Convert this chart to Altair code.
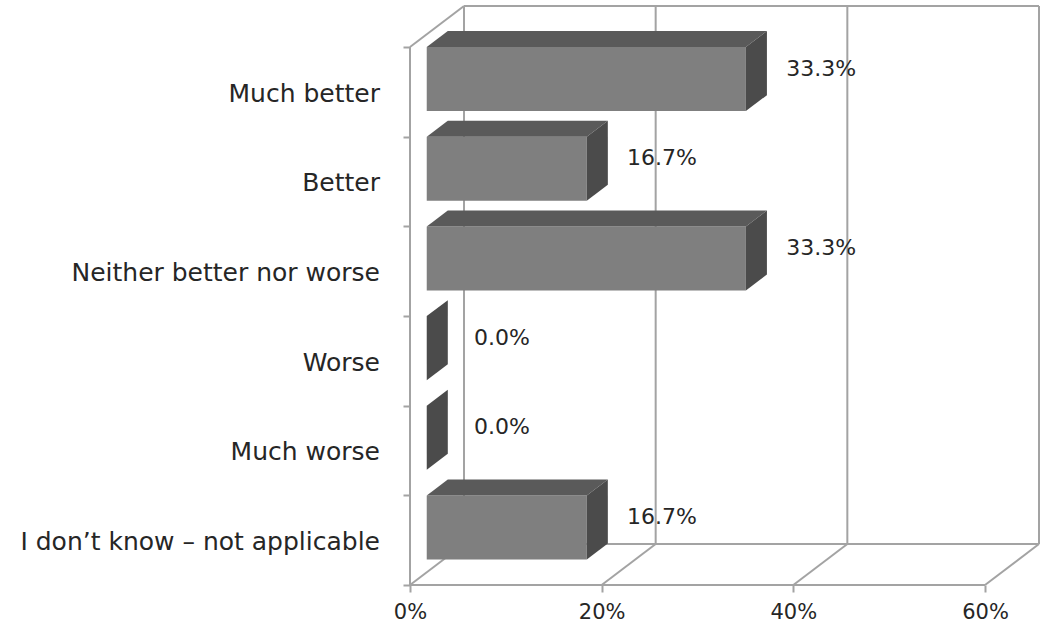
import altair as alt
import pandas as pd

# Survey answers and their shares (percent)
categories = [
    "Much better",
    "Better",
    "Neither better nor worse",
    "Worse",
    "Much worse",
    "I don’t know – not applicable",
]
shares = [33.3, 16.7, 33.3, 0.0, 0.0, 16.7]
x_ticks = [0, 20, 40, 60]

# Pseudo-3D geometry, in data units: depth of the box along x (%) and y (rows)
DEPTH_X = 5.635
DEPTH_Y = 0.457
BAR_FRONT = 0.31   # depth fraction of a bar's front face
BAR_BACK = 0.70    # depth fraction of a bar's back face
BAR_HALF = 0.357   # half bar thickness, in rows

N = len(categories)
X_MAX = max(x_ticks)

rows = []
top_rows = []
side_rows = []
for i, (cat, v) in enumerate(zip(categories, shares)):
    c = N - i - 0.5
    fx, fy = BAR_FRONT * DEPTH_X, BAR_FRONT * DEPTH_Y
    bx, by = BAR_BACK * DEPTH_X, BAR_BACK * DEPTH_Y
    rows.append(dict(cat=cat, share=v, center=c, zero=0.0,
                     x=fx, x2=v + fx, y=c - BAR_HALF + fy, y2=c + BAR_HALF + fy))
    top_rows += [
        dict(bar=i, y=c + BAR_HALF + fy, x=fx, x2=v + fx),
        dict(bar=i, y=c + BAR_HALF + by, x=bx, x2=v + bx),
    ]
    side_rows += [
        dict(bar=i, x=v + fx, y=c - BAR_HALF + fy, y2=c + BAR_HALF + fy),
        dict(bar=i, x=v + bx, y=c - BAR_HALF + by, y2=c + BAR_HALF + by),
    ]
bars = pd.DataFrame(rows)
tops = pd.DataFrame(top_rows)
sides = pd.DataFrame(side_rows)

# Box outline: back wall, floor and left wall edges
segs = []
for t in x_ticks:
    segs.append(dict(x=t + DEPTH_X, y=DEPTH_Y, x2=t + DEPTH_X, y2=N + DEPTH_Y))  # back wall grid
    segs.append(dict(x=t, y=0, x2=t + DEPTH_X, y2=DEPTH_Y))                      # floor diagonals
segs += [
    dict(x=DEPTH_X, y=N + DEPTH_Y, x2=X_MAX + DEPTH_X, y2=N + DEPTH_Y),
    dict(x=DEPTH_X, y=DEPTH_Y, x2=X_MAX + DEPTH_X, y2=DEPTH_Y),
    dict(x=0, y=0, x2=X_MAX, y2=0),
    dict(x=0, y=0, x2=0, y2=N),
    dict(x=0, y=N, x2=DEPTH_X, y2=N + DEPTH_Y),
]
edges = pd.DataFrame(segs)

FONT = "DejaVu Sans"
TEXT = "#262626"
GRID = "#a3a3a3"

xs = alt.Scale(domain=[0, X_MAX + DEPTH_X], nice=False, zero=False)
ys = alt.Scale(domain=[0, N + DEPTH_Y], nice=False, zero=False)

x_axis = alt.Axis(
    values=x_ticks, labelExpr="datum.value + '%'", title=None,
    domain=False, grid=False, tickSize=7, tickColor=GRID, tickWidth=2,
    labelAlign="center", labelFlush=False, labelBound=False,
    labelFont=FONT, labelFontSize=21, labelColor=TEXT, labelPadding=9)
y_axis = alt.Axis(
    values=list(range(N + 1)), labels=False, title=None,
    domain=False, grid=False, tickSize=7, tickColor=GRID, tickWidth=2)


def X(field):
    return alt.X(field, scale=xs, axis=x_axis)


def Y(field):
    return alt.Y(field, scale=ys, axis=y_axis)


frame = alt.Chart(edges).mark_rule(color=GRID, strokeWidth=2).encode(
    x=X("x:Q"), y=Y("y:Q"), x2="x2:Q", y2="y2:Q",
)

front = alt.Chart(bars).mark_rect(color="#7f7f7f").encode(
    x=X("x:Q"), x2="x2:Q", y=Y("y:Q"), y2="y2:Q",
)

top = alt.Chart(tops).mark_area(orient="horizontal", color="#5a5a5a").encode(
    y=Y("y:Q"), x=X("x:Q"), x2="x2:Q", detail="bar:N",
)

side = alt.Chart(sides).mark_area(orient="vertical", color="#4b4b4b").encode(
    x=X("x:Q"), y=Y("y:Q"), y2="y2:Q", detail="bar:N",
)

cat_labels = alt.Chart(bars).mark_text(
    align="right", baseline="middle", font=FONT, fontSize=25, color=TEXT,
    xOffset=-30, yOffset=2,
).encode(
    x=X("zero:Q"), y=Y("center:Q"), text="cat:N",
)

value_labels = alt.Chart(bars).transform_calculate(
    label="format(datum.share, '.1f') + '%'"
).mark_text(
    align="center", baseline="middle", font=FONT, fontSize=22, color=TEXT,
    xOffset=92, yOffset=-23,
).encode(
    x=X("share:Q"), y=Y("center:Q"), text="label:N",
)

chart = alt.layer(frame, front, top, side, cat_labels, value_labels).properties(
    width=629,
    height=579,
    autosize=alt.AutoSizeParams(type="none"),
    padding={"left": 410, "top": 6, "right": 4, "bottom": 48},
    background="white",
).configure_view(stroke=None)

chart.save("out.html", embed_options={"renderer": "svg", "actions": False})
